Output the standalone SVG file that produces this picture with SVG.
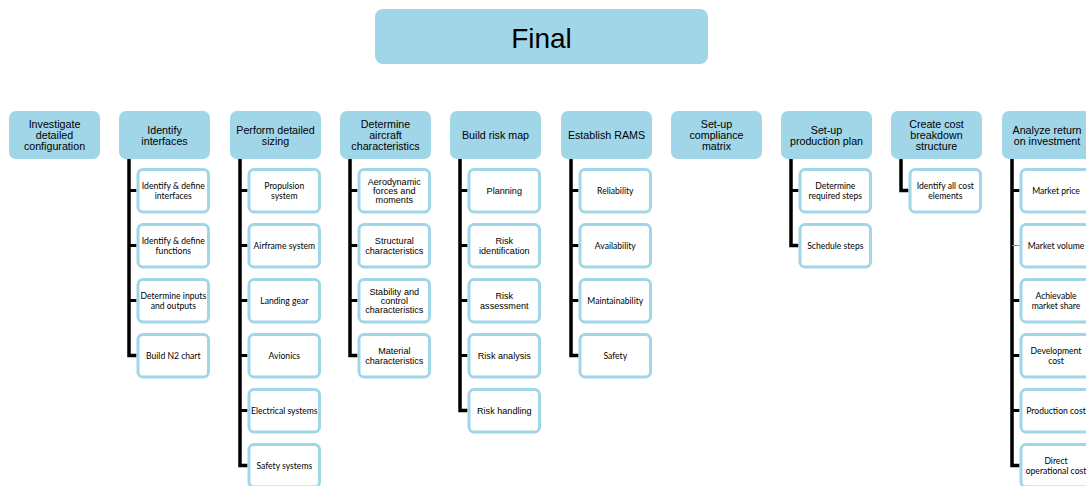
<svg xmlns="http://www.w3.org/2000/svg" width="1086" height="486" viewBox="0 0 1086 486">
<style>
.hd{fill:#a1d6e8;}
.ch{fill:#ffffff;stroke:#a1d6e8;stroke-width:3;}
.ht{font-family:"Liberation Sans",Arial,sans-serif;font-size:10.7px;fill:#000;text-anchor:middle;}
.ca{font-family:Lato,"Liberation Sans",sans-serif;font-size:8.6px;fill:#000;text-anchor:middle;}
.ar{font-family:"Liberation Sans",Arial,sans-serif;font-size:9.1px;fill:#000;text-anchor:middle;}
.cn{fill:none;stroke:#000;stroke-width:3.5;}
.tk{fill:none;stroke:#000;stroke-width:3;}
</style>
<rect width="1086" height="486" fill="#ffffff"/>
<g id="final">
<rect class="hd" x="375" y="9" width="333" height="55" rx="8"/>
<text x="541.5" y="48" font-family="'Liberation Sans',Arial,sans-serif" font-size="28" text-anchor="middle">Final</text>
</g>
<g id="connectors">
<path class="cn" d="M129,159 V355.5 H136.5"/>
<path class="tk" d="M129,190.5 H136.5 M129,245.5 H136.5 M129,300.5 H136.5"/>
<path class="cn" d="M240,159 V465.5 H247.5"/>
<path class="tk" d="M240,190.5 H247.5 M240,245.5 H247.5 M240,300.5 H247.5 M240,355.5 H247.5 M240,410.5 H247.5"/>
<path class="cn" d="M350,159 V355.5 H357.5"/>
<path class="tk" d="M350,190.5 H357.5 M350,245.5 H357.5 M350,300.5 H357.5"/>
<path class="cn" d="M460,159 V410.5 H467.5"/>
<path class="tk" d="M460,190.5 H467.5 M460,245.5 H467.5 M460,300.5 H467.5 M460,355.5 H467.5"/>
<path class="cn" d="M571,159 V355.5 H578.5"/>
<path class="tk" d="M571,190.5 H578.5 M571,245.5 H578.5 M571,300.5 H578.5"/>
<path class="cn" d="M791,159 V245.5 H798.5"/>
<path class="tk" d="M791,190.5 H798.5"/>
<path class="cn" d="M901,159 V190.5 H908.5"/>
<path class="cn" d="M1012,159 V465.5 H1019.5"/>
<path class="tk" d="M1012,190.5 H1019.5 M1012,300.5 H1019.5 M1012,355.5 H1019.5 M1012,410.5 H1019.5"/>
<path d="M1012,245.5 H1019.5" fill="none" stroke="#6f8fa6" stroke-width="1"/>
</g>
<g id="col0">
<rect class="hd" x="9" y="111" width="91" height="48" rx="7"/>
<text class="ht" x="54.5" y="128">Investigate</text>
<text class="ht" x="54.5" y="139">detailed</text>
<text class="ht" x="54.5" y="150">configuration</text>
</g>
<g id="col1">
<rect class="hd" x="119" y="111" width="91" height="48" rx="7"/>
<text class="ht" x="164.5" y="134">Identify</text>
<text class="ht" x="164.5" y="145">interfaces</text>
<rect class="ch" x="138" y="169.5" width="70.5" height="42.5" rx="5"/>
<text class="ca" x="173.3" y="189">Identify &amp; define</text>
<text class="ca" x="173.3" y="198.5">interfaces</text>
<rect class="ch" x="138" y="224.5" width="70.5" height="42.5" rx="5"/>
<text class="ca" x="173.3" y="244">Identify &amp; define</text>
<text class="ca" x="173.3" y="253.5">functions</text>
<rect class="ch" x="138" y="279.5" width="70.5" height="42.5" rx="5"/>
<text class="ca" x="173.3" y="299">Determine inputs</text>
<text class="ca" x="173.3" y="308.5">and outputs</text>
<rect class="ch" x="138" y="334.5" width="70.5" height="42.5" rx="5"/>
<text class="ca" x="173.3" y="358.5">Build N2 chart</text>
</g>
<g id="col2">
<rect class="hd" x="230" y="111" width="91" height="48" rx="7"/>
<text class="ht" x="275.5" y="134">Perform detailed</text>
<text class="ht" x="275.5" y="145">sizing</text>
<rect class="ch" x="249" y="169.5" width="70.5" height="42.5" rx="5"/>
<text class="ca" x="284.3" y="189">Propulsion</text>
<text class="ca" x="284.3" y="198.5">system</text>
<rect class="ch" x="249" y="224.5" width="70.5" height="42.5" rx="5"/>
<text class="ca" x="284.3" y="248.5">Airframe system</text>
<rect class="ch" x="249" y="279.5" width="70.5" height="42.5" rx="5"/>
<text class="ca" x="284.3" y="303.5">Landing gear</text>
<rect class="ch" x="249" y="334.5" width="70.5" height="42.5" rx="5"/>
<text class="ca" x="284.3" y="358.5">Avionics</text>
<rect class="ch" x="249" y="389.5" width="70.5" height="42.5" rx="5"/>
<text class="ca" x="284.3" y="413.5">Electrical systems</text>
<rect class="ch" x="249" y="444.5" width="70.5" height="42.5" rx="5"/>
<text class="ca" x="284.3" y="468.5">Safety systems</text>
</g>
<g id="col3">
<rect class="hd" x="340" y="111" width="91" height="48" rx="7"/>
<text class="ht" x="385.5" y="128">Determine</text>
<text class="ht" x="385.5" y="139">aircraft</text>
<text class="ht" x="385.5" y="150">characteristics</text>
<rect class="ch" x="359" y="169.5" width="70.5" height="42.5" rx="5"/>
<text class="ar" x="394.3" y="184.5">Aerodynamic</text>
<text class="ar" x="394.3" y="193.5">forces and</text>
<text class="ar" x="394.3" y="202.5">moments</text>
<rect class="ch" x="359" y="224.5" width="70.5" height="42.5" rx="5"/>
<text class="ar" x="394.3" y="244">Structural</text>
<text class="ar" x="394.3" y="253.5">characteristics</text>
<rect class="ch" x="359" y="279.5" width="70.5" height="42.5" rx="5"/>
<text class="ar" x="394.3" y="294.5">Stability and</text>
<text class="ar" x="394.3" y="303.5">control</text>
<text class="ar" x="394.3" y="312.5">characteristics</text>
<rect class="ch" x="359" y="334.5" width="70.5" height="42.5" rx="5"/>
<text class="ar" x="394.3" y="354">Material</text>
<text class="ar" x="394.3" y="363.5">characteristics</text>
</g>
<g id="col4">
<rect class="hd" x="450" y="111" width="91" height="48" rx="7"/>
<text class="ht" x="495.5" y="139">Build risk map</text>
<rect class="ch" x="469" y="169.5" width="70.5" height="42.5" rx="5"/>
<text class="ar" x="504.3" y="194" font-size="9.3">Planning</text>
<rect class="ch" x="469" y="224.5" width="70.5" height="42.5" rx="5"/>
<text class="ar" x="504.3" y="244" font-size="9.3">Risk</text>
<text class="ar" x="504.3" y="253.5" font-size="9.3">identification</text>
<rect class="ch" x="469" y="279.5" width="70.5" height="42.5" rx="5"/>
<text class="ar" x="504.3" y="299" font-size="9.3">Risk</text>
<text class="ar" x="504.3" y="308.5" font-size="9.3">assessment</text>
<rect class="ch" x="469" y="334.5" width="70.5" height="42.5" rx="5"/>
<text class="ar" x="504.3" y="359" font-size="9.3">Risk analysis</text>
<rect class="ch" x="469" y="389.5" width="70.5" height="42.5" rx="5"/>
<text class="ar" x="504.3" y="414" font-size="9.3">Risk handling</text>
</g>
<g id="col5">
<rect class="hd" x="561" y="111" width="91" height="48" rx="7"/>
<text class="ht" x="606.5" y="139">Establish RAMS</text>
<rect class="ch" x="580" y="169.5" width="70.5" height="42.5" rx="5"/>
<text class="ca" x="615.3" y="193.5" font-size="8.2">Reliability</text>
<rect class="ch" x="580" y="224.5" width="70.5" height="42.5" rx="5"/>
<text class="ca" x="615.3" y="248.5" font-size="8.2">Availability</text>
<rect class="ch" x="580" y="279.5" width="70.5" height="42.5" rx="5"/>
<text class="ca" x="615.3" y="303.5" font-size="8.2">Maintainability</text>
<rect class="ch" x="580" y="334.5" width="70.5" height="42.5" rx="5"/>
<text class="ca" x="615.3" y="358.5" font-size="8.2">Safety</text>
</g>
<g id="col6">
<rect class="hd" x="671" y="111" width="91" height="48" rx="7"/>
<text class="ht" x="716.5" y="128">Set-up</text>
<text class="ht" x="716.5" y="139">compliance</text>
<text class="ht" x="716.5" y="150">matrix</text>
</g>
<g id="col7">
<rect class="hd" x="781" y="111" width="91" height="48" rx="7"/>
<text class="ht" x="826.5" y="134">Set-up</text>
<text class="ht" x="826.5" y="145">production plan</text>
<rect class="ch" x="800" y="169.5" width="70.5" height="42.5" rx="5"/>
<text class="ca" x="835.3" y="189">Determine</text>
<text class="ca" x="835.3" y="198.5">required steps</text>
<rect class="ch" x="800" y="224.5" width="70.5" height="42.5" rx="5"/>
<text class="ca" x="835.3" y="248.5">Schedule steps</text>
</g>
<g id="col8">
<rect class="hd" x="891" y="111" width="91" height="48" rx="7"/>
<text class="ht" x="936.5" y="128">Create cost</text>
<text class="ht" x="936.5" y="139">breakdown</text>
<text class="ht" x="936.5" y="150">structure</text>
<rect class="ch" x="910" y="169.5" width="70.5" height="42.5" rx="5"/>
<text class="ca" x="945.3" y="189">Identify all cost</text>
<text class="ca" x="945.3" y="198.5">elements</text>
</g>
<g id="col9">
<rect class="hd" x="1002" y="111" width="91" height="48" rx="7"/>
<text class="ht" x="1047" y="134">Analyze return</text>
<text class="ht" x="1047" y="145">on investment</text>
<rect class="ch" x="1021" y="169.5" width="70.5" height="42.5" rx="5"/>
<text class="ca" x="1056" y="193.5">Market price</text>
<rect class="ch" x="1021" y="224.5" width="70.5" height="42.5" rx="5"/>
<text class="ca" x="1056" y="248.5">Market volume</text>
<rect class="ch" x="1021" y="279.5" width="70.5" height="42.5" rx="5"/>
<text class="ca" x="1056" y="299">Achievable</text>
<text class="ca" x="1056" y="308.5">market share</text>
<rect class="ch" x="1021" y="334.5" width="70.5" height="42.5" rx="5"/>
<text class="ca" x="1056" y="354">Development</text>
<text class="ca" x="1056" y="363.5">cost</text>
<rect class="ch" x="1021" y="389.5" width="70.5" height="42.5" rx="5"/>
<text class="ca" x="1056" y="413.5">Production cost</text>
<rect class="ch" x="1021" y="444.5" width="70.5" height="42.5" rx="5"/>
<text class="ca" x="1056" y="464">Direct</text>
<text class="ca" x="1056" y="473.5">operational cost</text>
</g>
</svg>
